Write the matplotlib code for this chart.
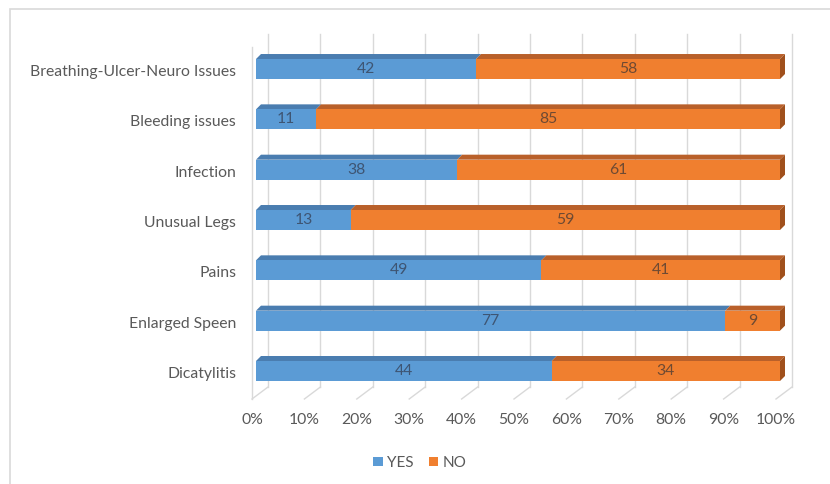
import matplotlib.pyplot as plt
from matplotlib.patches import Polygon, Rectangle
import numpy as np

# data (top to bottom as shown)
categories = ["Breathing-Ulcer-Neuro Issues", "Bleeding issues", "Infection",
              "Unusual Legs", "Pains", "Enlarged Speen", "Dicatylitis"]
yes_vals = [42, 11, 38, 13, 49, 77, 44]
no_vals = [58, 85, 61, 59, 41, 9, 34]
tick_labels = ["0%", "10%", "20%", "30%", "40%", "50%", "60%", "70%", "80%", "90%", "100%"]

BLUE = "#5B9BD5"
ORANGE = "#F07F2F"
BLUE_TOP = "#4A7DB0"
ORANGE_TOP = "#B9602A"
ORANGE_SIDE = "#A0501C"
GRID = "#D9D9D9"
TXT = "#595959"

plt.rcParams["font.family"] = ["Lato", "DejaVu Sans"]

W, H = 830, 484
fig = plt.figure(figsize=(W / 100, H / 100), dpi=100)

# outer frame
fig.patches.append(Rectangle((10 / W, -0.1), 1.2, 1 - 9 / H + 0.1, transform=fig.transFigure,
                             fill=False, edgecolor="#D9D9D9", linewidth=1.2))

# axes: x 0..100 maps to pixel 256..780, y pixel 400 (bottom) .. 35 (top)
ax_left, ax_right = 256, 780
ax_bot, ax_top = 400, 35
ax = fig.add_axes([ax_left / W, 1 - ax_bot / H, (ax_right - ax_left) / W, (ax_bot - ax_top) / H])
ax.set_xlim(0, 100)
row_px = 50.33
y0_px = 371  # center of bottom row
ax.set_ylim(-(ax_bot - y0_px) / row_px, (y0_px - ax_top) / row_px)
ax.axis("off")

px_x = 100 / (ax_right - ax_left)   # data units per pixel (x)
px_y = 1 / row_px                   # data units per pixel (y)

n = len(categories)
ypos = np.arange(n)[::-1]
yes = np.array(yes_vals, float)
no = np.array(no_vals, float)
tot = yes + no
yes_p = yes / tot * 100
no_p = no / tot * 100

# back wall gridlines + floor diagonals
back_dx = 12 * px_x
front_dx = -4 * px_x
floor_back = -(387 - y0_px) * px_y
floor_front = -(399 - y0_px) * px_y
top_line = (y0_px - 34) * px_y
for i in range(11):
    xv = i * 10
    ax.plot([xv + back_dx, xv + back_dx], [floor_back, top_line], color=GRID, lw=1, zorder=0,
            clip_on=False)
    ax.plot([xv + back_dx, xv + front_dx], [floor_back, floor_front], color=GRID, lw=1, zorder=0,
            clip_on=False)
    ax.text(xv + front_dx, -(420 - y0_px) * px_y, tick_labels[i], ha="center", va="center",
            fontsize=11.3, color=TXT, clip_on=False)
# left side wall edge
ax.plot([front_dx, front_dx], [floor_front, (y0_px - 47) * px_y], color=GRID, lw=1, zorder=0,
        clip_on=False)

bh = 20 * px_y
dx, dy = 5 * px_x, 5 * px_y
for y, a, b in zip(ypos, yes_p, no_p):
    top = y + bh / 2
    # top faces
    ax.add_patch(Polygon([(0, top), (dx, top + dy), (a + dx, top + dy), (a, top)],
                         closed=True, facecolor=BLUE_TOP, edgecolor="none", zorder=2,
                         clip_on=False))
    ax.add_patch(Polygon([(a, top), (a + dx, top + dy), (100 + dx, top + dy), (100, top)],
                         closed=True, facecolor=ORANGE_TOP, edgecolor="none", zorder=2,
                         clip_on=False))
    # right side face
    ax.add_patch(Polygon([(100, top), (100 + dx, top + dy), (100 + dx, top + dy - bh), (100, top - bh)],
                         closed=True, facecolor=ORANGE_SIDE, edgecolor="none", zorder=2,
                         clip_on=False))

ax.barh(ypos, yes_p, height=bh, color=BLUE, edgecolor="none", zorder=3, label="YES")
ax.barh(ypos, no_p, left=yes_p, height=bh, color=ORANGE, edgecolor="none", zorder=3, label="NO")

for y, a, b, va, vb in zip(ypos, yes_p, no_p, yes_vals, no_vals):
    ax.text(a / 2, y, str(va), ha="center", va="center", fontsize=11.3, color="#3E5573", zorder=4)
    ax.text(a + b / 2, y, str(vb), ha="center", va="center", fontsize=11.3, color="#6E4A33", zorder=4)

for y, c in zip(ypos, categories):
    ax.text(-(256 - 236) * px_x, y - 3 * px_y, c, ha="right", va="center", fontsize=11.3,
            color=TXT, clip_on=False)

leg = fig.legend(loc="center", bbox_to_anchor=(420 / W, 1 - 463 / H), ncol=2, frameon=False,
                 handlelength=0.6, handleheight=0.6, handletextpad=0.3, columnspacing=1.0,
                 fontsize=11, labelcolor=TXT)

fig.savefig("out.png", dpi=100)
